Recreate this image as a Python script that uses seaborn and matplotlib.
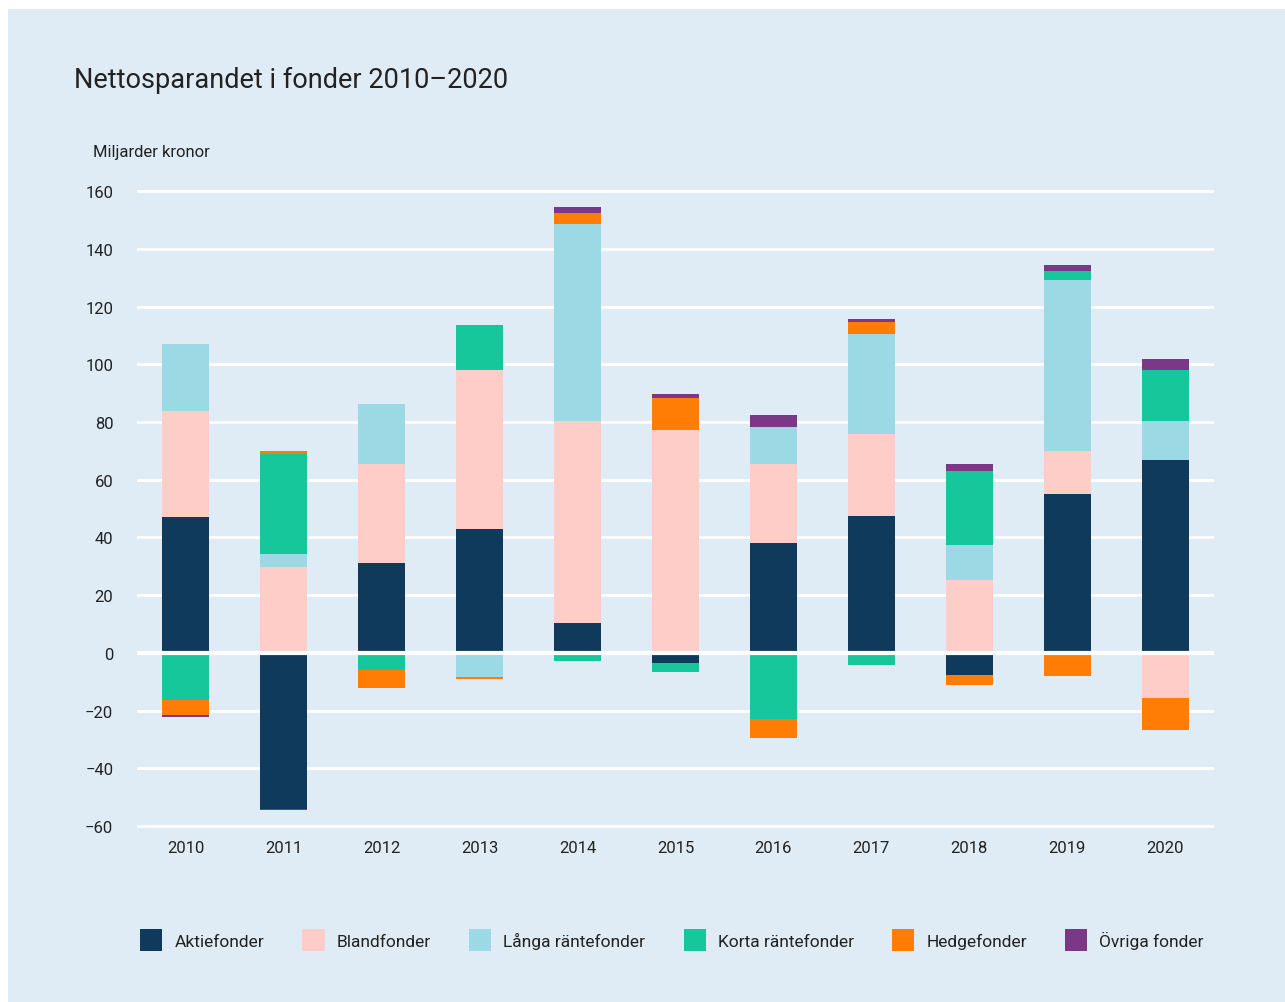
import numpy as np
import pandas as pd
import matplotlib
matplotlib.use("Agg")
import matplotlib.pyplot as plt
from matplotlib.patches import Patch, Rectangle
import seaborn as sns

# DATA (miljarder kronor)
years = ['2010', '2011', '2012', '2013', '2014', '2015', '2016', '2017', '2018', '2019', '2020']
aktie = [47.2, -54.0, 31.3, 43.1, 10.2, -3.4, 38.2, 47.6, -7.5, 54.9, 66.7]
bland = [36.8, 29.6, 34.3, 55.1, 70.0, 77.1, 27.4, 28.4, 25.1, 14.9, -15.5]
langa = [23.2, 4.5, 20.8, -8.2, 68.3, 0.0, 12.8, 34.4, 12.4, 59.6, 13.8]
korta = [-16.5, 35.0, -6.1, 15.6, -2.7, -3.1, -23.0, -4.1, 25.7, 2.8, 17.7]
hedge = [-4.9, 0.7, -5.9, -1.0, 3.8, 11.4, -6.4, 4.2, -3.8, -7.9, -11.1]
ovriga = [-0.7, -0.3, -0.3, 0.0, 2.1, 1.4, 3.9, 1.0, 2.1, 2.1, 3.8]

series_names = ['Aktiefonder', 'Blandfonder', 'Långa räntefonder',
                'Korta räntefonder', 'Hedgefonder', 'Övriga fonder']
colors = ['#103A5C', '#FFCDC7', '#9BD9E5', '#17C79C', '#FF7D05', '#7B3887']
yticks = [-60, -40, -20, 0, 20, 40, 60, 80, 100, 120, 140, 160]

bg = '#DFECF5'
textcol = '#222222'

df = pd.DataFrame({'year': years, 'Aktiefonder': aktie, 'Blandfonder': bland,
                   'Långa räntefonder': langa, 'Korta räntefonder': korta,
                   'Hedgefonder': hedge, 'Övriga fonder': ovriga})

sns.set_theme(style='white')
plt.rcParams['font.family'] = ['Roboto', 'DejaVu Sans']

fig = plt.figure(figsize=(12.85, 10.03), dpi=100, facecolor='white')
fig.patches.append(Rectangle((8 / 1285, 0), 1, 1 - 10 / 1003, transform=fig.transFigure,
                             facecolor=bg, edgecolor='none', zorder=-10))

ax = fig.add_axes([137 / 1285, 0.1726, (1214 - 137) / 1285, 0.6386])
ax.set_facecolor(bg)
ax.patch.set_alpha(0)

# staplade staplar: kumulativa summor ritas yttersta först
vals = df[series_names].to_numpy()
pos = np.cumsum(np.clip(vals, 0, None), axis=1)
neg = np.cumsum(np.clip(vals, None, 0), axis=1)
for i in range(len(series_names) - 1, -1, -1):
    sns.barplot(x=df['year'], y=pos[:, i], color=colors[i], saturation=1,
                width=0.48, ax=ax, zorder=2, linewidth=0)
    sns.barplot(x=df['year'], y=neg[:, i], color=colors[i], saturation=1,
                width=0.48, ax=ax, zorder=2, linewidth=0)

for t in yticks:
    if t == 0:
        ax.axhline(0, color='white', lw=3, zorder=5)
    else:
        ax.axhline(t, color='white', lw=2, zorder=1)

ax.set_xlim(-0.5, 10.5)
ax.set_ylim(-61, 161)
ax.set_yticks(yticks)
ax.set_yticklabels([str(t).replace('-', '\u2212') for t in yticks])
ax.set_xlabel('')
ax.set_ylabel('')
ax.tick_params(axis='y', length=0, pad=17, labelsize=12, labelcolor=textcol)
ax.tick_params(axis='x', length=0, pad=8, labelsize=12, labelcolor=textcol)
for s in ax.spines.values():
    s.set_visible(False)

fig.text(74 / 1285, 1 - 88 / 1003, 'Nettosparandet i fonder 2010\u20132020',
         fontsize=19.5, color=textcol, va='baseline', ha='left')
fig.text(93 / 1285, 1 - 157 / 1003, 'Miljarder kronor',
         fontsize=12, color=textcol, va='baseline', ha='left')

handles = [Patch(facecolor=c, edgecolor='none', label=n) for c, n in zip(colors, series_names)]
fig.legend(handles=handles, loc='center', bbox_to_anchor=(0.523, 1 - 941 / 1003), ncol=6,
           frameon=False, fontsize=12.5, handlelength=1.27, handleheight=1.6,
           handletextpad=0.7, columnspacing=2.2, labelcolor=textcol)

plt.savefig('out.png', dpi=100, facecolor=fig.get_facecolor())
plt.close()
